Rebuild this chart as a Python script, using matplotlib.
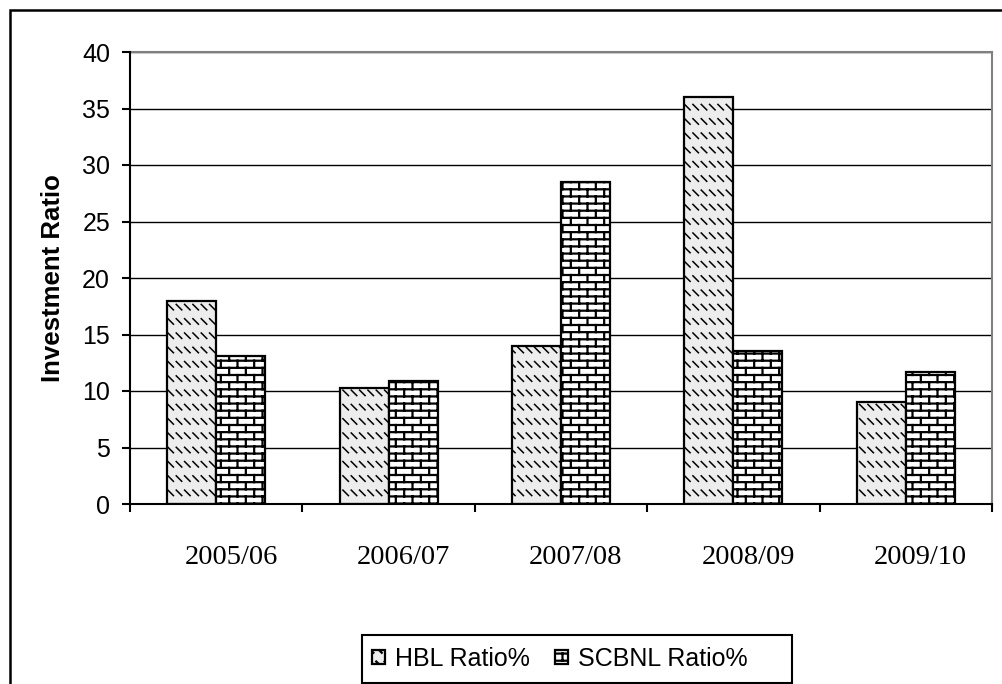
import warnings
import numpy as np
import matplotlib
matplotlib.use("Agg")
import matplotlib.pyplot as plt
import matplotlib.hatch as mhatch
import matplotlib.transforms as mtransforms
from matplotlib.path import Path
from matplotlib.patches import Rectangle

warnings.filterwarnings("ignore")

# ---- data -------------------------------------------------------------
years = ["2005/06", "2006/07", "2007/08", "2008/09", "2009/10"]
hbl_ratio = [18.0, 10.3, 14.0, 36.0, 9.0]
scbnl_ratio = [13.1, 10.9, 28.5, 13.5, 11.7]
series_names = ["HBL Ratio%", "SCBNL Ratio%"]
y_ticks = [0, 5, 10, 15, 20, 25, 30, 35, 40]
y_label = "Investment Ratio"


# ---- custom fill patterns -----------------------------------------------
class BrickHatch(mhatch.HatchPatternBase):
    """Staggered brick wall, selected with the character 'b'."""

    def __init__(self, hatch, density):
        n = hatch.count("b")
        self.rows = 14 * n
        self.cols = 6 * n
        if n:
            self.num_vertices = 2 * (self.rows + self.rows * self.cols + self.cols)
        else:
            self.num_vertices = 0

    def set_vertices_and_codes(self, vertices, codes):
        rows, cols = self.rows, self.cols
        ys = (np.arange(rows) + 0.5) / rows
        h = 2 * rows
        vertices[0:h:2, 0] = 0.0
        vertices[0:h:2, 1] = ys
        vertices[1:h:2, 0] = 1.0
        vertices[1:h:2, 1] = ys
        codes[0:h:2] = Path.MOVETO
        codes[1:h:2] = Path.LINETO
        k = h
        for r in range(rows):
            off = 0.5 / cols if r % 2 else 0.0
            for j in range(cols):
                x = (j + 0.25) / cols + off
                vertices[k] = (x, ys[r])
                vertices[k + 1] = (x, ys[r] + 1.0 / rows)
                codes[k] = Path.MOVETO
                codes[k + 1] = Path.LINETO
                k += 2
        # joints of the row that wraps round the bottom of the tile
        off = 0.5 / cols if (rows - 1) % 2 else 0.0
        for j in range(cols):
            x = (j + 0.25) / cols + off
            vertices[k] = (x, 0.0)
            vertices[k + 1] = (x, 0.5 / rows)
            codes[k] = Path.MOVETO
            codes[k + 1] = Path.LINETO
            k += 2


class DashHatch(mhatch.HatchPatternBase):
    """Rows of short backslash dashes, selected with the character 'd'."""

    def __init__(self, hatch, density):
        n = hatch.count("d")
        self.rows = 7 * n
        self.cols = 12 * n
        self.num_vertices = 2 * self.rows * self.cols

    def set_vertices_and_codes(self, vertices, codes):
        dx, dy = 0.055, 0.055
        k = 0
        for r in range(self.rows):
            y = (r + 0.5) / self.rows
            for j in range(self.cols):
                x = (j + 0.15) / self.cols
                vertices[k] = (x, y + dy / 2)
                vertices[k + 1] = (x + dx, y - dy / 2)
                codes[k] = Path.MOVETO
                codes[k + 1] = Path.LINETO
                k += 2


mhatch._hatch_types.extend([BrickHatch, DashHatch])

# ---- figure -----------------------------------------------------------
W, H = 1002, 684
fig = plt.figure(figsize=(W / 100, H / 100), dpi=100)
fig.patch.set_facecolor("white")

ax = fig.add_axes([130 / W, 1 - 504 / H, 862 / W, 452 / H])

x = np.arange(len(years))
bw = 0.284

plt.rcParams["hatch.linewidth"] = 1.1
bars_h = ax.bar(x - bw / 2, hbl_ratio, bw, facecolor="#ededed",
                edgecolor="black", linewidth=1.6, hatch="d",
                label=series_names[0], zorder=3)
plt.rcParams["hatch.linewidth"] = 1.6
bars_s = ax.bar(x + bw / 2, scbnl_ratio, bw, facecolor="white",
                edgecolor="black", linewidth=1.6, hatch="b",
                label=series_names[1], zorder=3)
for p in bars_h:
    if hasattr(p, "set_hatch_linewidth"):
        p.set_hatch_linewidth(1.1)
for p in bars_s:
    if hasattr(p, "set_hatch_linewidth"):
        p.set_hatch_linewidth(1.6)

ax.set_xlim(-0.5, len(years) - 0.5)
ax.set_ylim(0, 40)
ax.set_yticks(y_ticks)
ax.set_yticklabels([str(t) for t in y_ticks], fontfamily="Liberation Sans",
                   fontsize=18)
ax.tick_params(axis="y", length=5.8, width=1.5, pad=8.6, color="black")

ax.set_xticks(x)
ax.set_xticklabels(years, fontfamily="Liberation Serif", fontsize=20.5)
ax.set_xticks(np.arange(len(years) + 1) - 0.5, minor=True)
ax.tick_params(axis="x", which="major", length=0, pad=29.5)
ax.tick_params(axis="x", which="minor", length=6, width=1.5, color="black")
# category labels sit a little right of the bar pairs
shift = mtransforms.ScaledTranslation(0.15, 0, fig.dpi_scale_trans)
for lbl in ax.get_xticklabels():
    lbl.set_transform(lbl.get_transform() + shift)

ax.yaxis.grid(True, color="black", linewidth=1.0)
ax.set_axisbelow(True)

for side in ("left", "bottom"):
    ax.spines[side].set_color("black")
    ax.spines[side].set_linewidth(1.5)
for side in ("top", "right"):
    ax.spines[side].set_color("#808080")
    ax.spines[side].set_linewidth(1.5)
ax.spines["left"].set_zorder(4)
ax.spines["bottom"].set_zorder(4)

ax.set_ylabel(y_label, fontfamily="Liberation Sans", fontweight="bold",
              fontsize=18.5, va="center")
ax.yaxis.set_label_coords((53 - 130) / 862, 0.5)

# legend with its own frame box
leg = fig.legend(handles=[bars_h, bars_s], labels=series_names,
                 loc="center left", bbox_to_anchor=(362 / W, 1 - 659 / H),
                 ncol=2, frameon=False, borderaxespad=0, borderpad=0.4,
                 handlelength=0.52, handleheight=0.52, handletextpad=0.4,
                 columnspacing=1.0,
                 prop={"family": "Liberation Sans", "size": 18})
fig.add_artist(Rectangle((362 / W, 1 - 683 / H), 430 / W, 48 / H,
                         transform=fig.transFigure, fill=False,
                         edgecolor="black", linewidth=1.5))

# outer chart border
fig.add_artist(Rectangle((10 / W, -0.1), 1.2, 1.1 - 10 / H,
                         transform=fig.transFigure, fill=False,
                         edgecolor="black", linewidth=1.8))

fig.savefig("out.png", dpi=100)
